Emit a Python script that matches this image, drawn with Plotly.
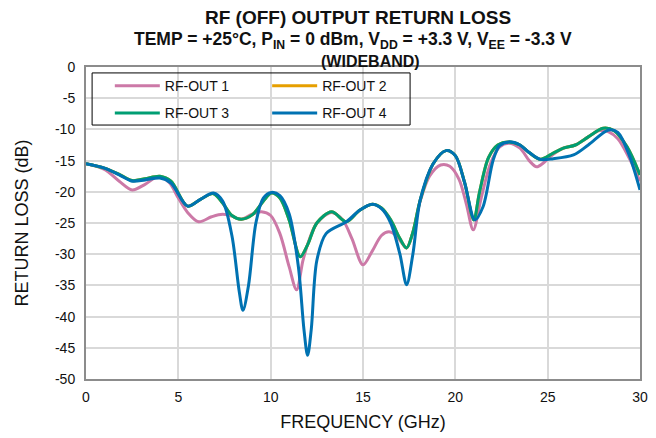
import plotly.graph_objects as go

# RF-OUT 1 (pink)
f1 = [0, 1, 1.8, 2.5, 3.2, 3.9, 4.5, 5.0, 5.5, 6.1, 6.8, 7.4, 7.9, 8.4, 9.0, 9.5, 10.0, 10.5, 11.0, 11.4, 11.75, 12.05, 12.5, 13.3, 13.9, 14.4, 15.0, 15.5, 16.0, 16.4, 16.8, 17.36, 17.7, 18.1, 18.6, 19.2, 19.7, 20.2, 20.6, 20.97, 21.4, 21.9, 22.4, 22.9, 23.5, 24.0, 24.4, 24.8, 25.3, 25.85, 26.5, 27.2, 27.8, 28.3, 28.8, 29.4, 30]
rl1 = [-15.5, -16.4, -18.3, -19.7, -18.8, -17.6, -18.5, -21.0, -23.3, -24.8, -24.0, -23.6, -23.9, -24.4, -23.6, -23.2, -23.8, -26.7, -32.0, -35.7, -31.0, -28.0, -25.0, -23.3, -24.5, -27.5, -31.7, -29.5, -27.0, -26.4, -27.0, -29.0, -26.5, -21.5, -17.5, -15.7, -15.9, -18.0, -22.0, -26.1, -21.0, -15.5, -12.8, -12.2, -13.0, -15.0, -16.0, -15.3, -14.0, -13.0, -12.5, -11.2, -10.2, -10.4, -11.5, -14.5, -18.3]

# RF-OUT 2 (orange, lies under RF-OUT 3)
f2 = [0, 1, 1.8, 2.5, 3.2, 4.0, 4.6, 5.5, 6.2, 6.9, 7.4, 7.9, 8.4, 9.0, 9.6, 10.05, 10.5, 11.0, 11.6, 12.0, 12.5, 13.3, 14.1, 14.8, 15.5, 16.0, 16.5, 17.0, 17.36, 17.7, 18.1, 18.8, 19.5, 20.0, 20.5, 21.0, 21.3, 21.8, 22.3, 22.9, 23.5, 24.0, 24.6, 25.3, 25.85, 26.5, 27.2, 28.0, 28.6, 29.3, 30]
rl2 = [-15.5, -16.2, -17.2, -18.2, -17.9, -17.5, -18.3, -22.3, -21.2, -20.3, -21.8, -23.8, -24.4, -23.7, -21.5, -20.2, -21.0, -24.5, -30.4, -28.5, -25.0, -23.2, -24.8, -23.0, -22.0, -22.6, -24.5, -27.5, -29.0, -26.5, -21.3, -15.5, -13.4, -14.2, -18.5, -24.5, -20.2, -14.5, -12.5, -12.0, -12.5, -13.7, -14.8, -13.8, -13.0, -12.5, -11.2, -9.8, -10.2, -12.8, -17.3]

# RF-OUT 3 (green)
f3 = [0, 1, 1.8, 2.5, 3.2, 4.0, 4.6, 5.5, 6.2, 6.9, 7.4, 7.9, 8.4, 9.0, 9.6, 10.05, 10.5, 11.0, 11.6, 12.0, 12.5, 13.3, 14.1, 14.8, 15.5, 16.0, 16.5, 17.0, 17.36, 17.7, 18.1, 18.8, 19.5, 20.0, 20.5, 21.0, 21.3, 21.8, 22.3, 22.9, 23.5, 24.0, 24.6, 25.3, 25.85, 26.5, 27.2, 28.0, 28.6, 29.3, 30]
rl3 = [-15.5, -16.2, -17.2, -18.2, -17.9, -17.5, -18.3, -22.3, -21.2, -20.3, -21.8, -23.8, -24.4, -23.7, -21.5, -20.2, -21.0, -24.5, -30.4, -28.5, -25.0, -23.2, -24.8, -23.0, -22.0, -22.6, -24.5, -27.5, -29.0, -26.5, -21.3, -15.5, -13.4, -14.2, -18.5, -24.5, -20.2, -14.5, -12.5, -12.0, -12.5, -13.7, -14.8, -13.8, -13.0, -12.5, -11.2, -9.8, -10.2, -12.8, -17.3]

# RF-OUT 4 (blue)
f4 = [0, 1, 1.8, 2.5, 3.2, 4.0, 4.6, 5.5, 6.2, 6.9, 7.4, 7.9, 8.3, 8.5, 8.8, 9.2, 9.6, 10.05, 10.5, 11.0, 11.5, 11.8, 12.0, 12.2, 12.5, 13.0, 14.1, 14.8, 15.5, 16.0, 16.5, 17.0, 17.36, 17.7, 18.1, 18.8, 19.5, 20.0, 20.5, 21.06, 21.5, 22.05, 22.4, 22.9, 23.5, 24.0, 24.6, 25.3, 26.4, 27.2, 28.3, 28.8, 29.4, 30]
rl4 = [-15.5, -16.2, -17.3, -18.3, -18.1, -17.8, -18.6, -22.3, -21.2, -20.2, -21.5, -27.0, -36.0, -39.0, -35.0, -25.0, -21.0, -20.1, -20.6, -23.5, -32.0, -42.0, -46.2, -42.0, -31.0, -26.7, -24.8, -23.0, -22.0, -22.7, -25.0, -30.0, -34.9, -30.0, -21.3, -15.5, -13.4, -14.2, -18.5, -24.5, -22.4, -14.9, -12.6, -12.0, -12.5, -13.7, -14.8, -14.7, -14.1, -12.5, -10.1, -10.5, -14.0, -19.7]

# axis tick values / labels
y_ticks = [0, -5, -10, -15, -20, -25, -30, -35, -40, -45, -50]
y_labels = ["0", "-5", "-10", "-15", "-20", "-25", "-30", "-35", "-40", "-45", "-50"]
x_ticks = [0, 5, 10, 15, 20, 25, 30]
x_labels = ["0", "5", "10", "15", "20", "25", "30"]

names = ["RF-OUT 1", "RF-OUT 2", "RF-OUT 3", "RF-OUT 4"]
colors = ["#CC79A7", "#E69F00", "#009E73", "#0072B2"]
legends = ["legend", "legend2", "legend", "legend2"]

fig = go.Figure()
for fx, ry, nm, c, lg in zip([f1, f2, f3, f4], [rl1, rl2, rl3, rl4], names, colors, legends):
    fig.add_trace(go.Scatter(x=fx, y=ry, name=nm, mode="lines",
                             line=dict(color=c, width=3, shape="spline", smoothing=0.9),
                             legend=lg, legendgroup=nm))

font = "Liberation Sans, Arial, sans-serif"
axis_common = dict(showline=True, mirror=True, linecolor="#8c8c8c", linewidth=2,
                   showgrid=True, gridcolor="#d9d9d9", gridwidth=1.5, zeroline=False,
                   ticks="", automargin=False,
                   tickfont=dict(family=font, size=14, color="#111"))

leg_common = dict(xanchor="left", yanchor="top", bgcolor="rgba(0,0,0,0)",
                  font=dict(family=font, size=14, color="#111"), itemwidth=45,
                  tracegroupgap=6, traceorder="grouped")

# the page body adds an 8 px offset; figure is sized to compensate
fig.update_layout(
    width=648, height=430,
    margin=dict(l=78, r=16, t=59, b=59),
    paper_bgcolor="white", plot_bgcolor="white",
    font=dict(family=font, color="#111"),
    showlegend=True,
    xaxis=dict(range=[0, 30], tickvals=x_ticks, ticktext=x_labels, ticklabelstandoff=4, **axis_common,
               title=dict(text="FREQUENCY (GHz)", font=dict(family=font, size=18), standoff=12)),
    yaxis=dict(range=[-50, 0], tickvals=y_ticks, ticktext=y_labels, ticklabelstandoff=6, **axis_common,
               title=dict(text="RETURN LOSS (dB)", font=dict(family=font, size=18), standoff=22)),
    legend=dict(x=0.043, y=0.99, **leg_common),
    legend2=dict(x=0.327, y=0.99, **leg_common),
    shapes=[dict(type="rect", xref="paper", yref="paper", x0=0.011, x1=0.585, y0=0.814, y1=0.981,
                 line=dict(color="black", width=1), fillcolor="rgba(0,0,0,0)", layer="above")],
    annotations=[
        dict(text="<b>RF (OFF) OUTPUT RETURN LOSS</b>", x=0.491, y=1.160, xref="paper", yref="paper",
             xanchor="center", yanchor="middle", showarrow=False,
             font=dict(family=font, size=19, color="#111")),
        dict(text="<b>TEMP = +25°C, P<sub>IN</sub> = 0 dBm, V<sub>DD</sub> = +3.3 V, V<sub>EE</sub> = -3.3 V</b>",
             x=0.482, y=1.084, xref="paper", yref="paper", xanchor="center", yanchor="middle",
             showarrow=False, font=dict(family=font, size=17.5, color="#111")),
        dict(text="<b>(WIDEBAND)</b>", x=0.514, y=1.017, xref="paper", yref="paper",
             xanchor="center", yanchor="middle", showarrow=False,
             font=dict(family="Liberation Sans Narrow, Arial Narrow, Liberation Sans, sans-serif", size=16, color="#111")),
    ],
)

fig.write_html("out.html")
